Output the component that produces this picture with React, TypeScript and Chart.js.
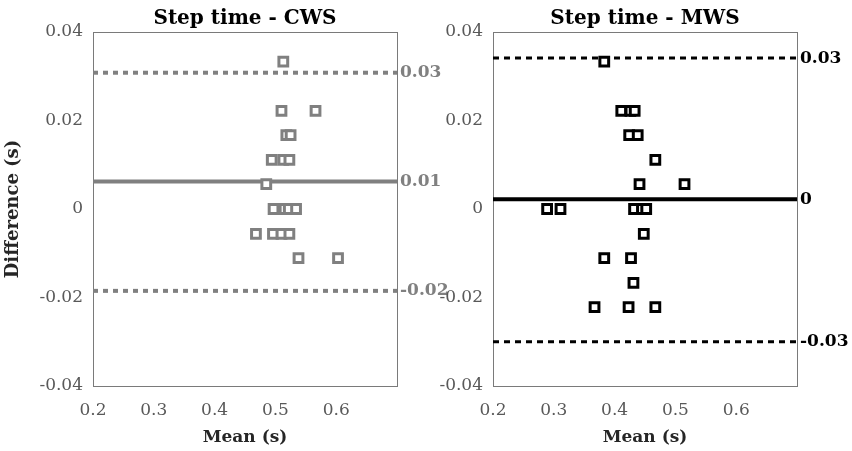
import { useEffect, useRef } from "react";
import { Chart, registerables } from "chart.js";

Chart.register(...registerables);

// ---- Data ----
const CWS_MEAN = [0.513, 0.51, 0.566, 0.518, 0.525, 0.494, 0.513, 0.523, 0.485, 0.497, 0.515, 0.522, 0.534, 0.468, 0.496, 0.51, 0.523, 0.538, 0.603];
const CWS_DIFF = [0.0333, 0.0222, 0.0222, 0.0167, 0.0167, 0.0111, 0.0111, 0.0111, 0.0056, 0, 0, 0, 0, -0.0056, -0.0056, -0.0056, -0.0056, -0.0111, -0.0111];
const CWS_LINES = [0.0308, 0.0062, -0.0185]; // upper LoA, bias, lower LoA
const CWS_LINE_LABELS = ["0.03", "0.01", "-0.02"];

const MWS_MEAN = [0.383, 0.411, 0.426, 0.433, 0.424, 0.438, 0.467, 0.441, 0.515, 0.289, 0.311, 0.432, 0.445, 0.452, 0.448, 0.383, 0.427, 0.431, 0.367, 0.423, 0.467];
const MWS_DIFF = [0.0333, 0.0222, 0.0222, 0.0222, 0.0167, 0.0167, 0.0111, 0.0056, 0.0056, 0, 0, 0, 0, 0, -0.0056, -0.0111, -0.0111, -0.0167, -0.0222, -0.0222, -0.0222];
const MWS_LINES = [0.0341, 0.0022, -0.03];
const MWS_LINE_LABELS = ["0.03", "0", "-0.03"];

const X_MIN = 0.2;
const X_MAX = 0.7;
const Y_MIN = -0.04;
const Y_MAX = 0.04;

const FONT = "'DejaVu Serif', serif";

type PanelProps = {
  title: string;
  xs: number[];
  ys: number[];
  lines: number[];
  lineLabels: string[];
  color: string;
  left: number;
  width: number;
  yAxisWidth: number;
  rightWidth: number;
  showYTitle: boolean;
  dash: number[];
  dashWidth: number;
};

const framePlugin = {
  id: "frame",
  beforeDatasetsDraw(chart: any) {
    const { ctx, chartArea: a } = chart;
    ctx.save();
    ctx.strokeStyle = "#7a7a7a";
    ctx.lineWidth = 1;
    ctx.strokeRect(Math.round(a.left) + 0.5, Math.round(a.top) + 0.5, Math.round(a.right - a.left), Math.round(a.bottom - a.top));
    ctx.restore();
  },
};

function Panel(p: PanelProps) {
  const ref = useRef<HTMLCanvasElement>(null);
  useEffect(() => {
    if (!ref.current) return;
    const pts = p.xs.map((x, i) => ({ x, y: p.ys[i] }));
    const lineDs = p.lines.map((v, i) => ({
      type: "line" as const,
      data: [
        { x: X_MIN, y: v },
        { x: X_MAX, y: v },
      ],
      borderColor: p.color,
      borderWidth: i === 1 ? 4 : p.dashWidth,
      borderDash: i === 1 ? [] : p.dash,
      pointRadius: 0,
      showLine: true,
      order: 2,
    }));
    const chart = new Chart(ref.current, {
      type: "scatter",
      data: {
        datasets: [
          {
            data: pts,
            pointStyle: "rect",
            pointRadius: 6.2,
            pointHoverRadius: 6.2,
            borderWidth: 3,
            borderColor: p.color,
            backgroundColor: "#ffffff",
            order: 0,
          } as any,
          ...lineDs,
        ],
      },
      options: {
        responsive: false,
        animation: false,
        events: [],
        layout: { padding: 0 },
        plugins: {
          legend: { display: false },
          tooltip: { enabled: false },
          title: {
            display: true,
            text: p.title,
            fullSize: false,
            color: "#000",
            font: { family: FONT, size: 20, weight: "bold", lineHeight: 1.2 },
            padding: { top: 6.5, bottom: 1.5 },
          },
        },
        scales: {
          x: {
            type: "linear",
            min: X_MIN,
            max: X_MAX,
            grid: { display: false, drawTicks: false, tickLength: 0 },
            border: { display: false },
            afterFit: (s: any) => {
              s.height = 65;
            },
            ticks: {
              stepSize: 0.1,
              padding: 14,
              color: "#595959",
              font: { family: FONT, size: 17 },
              callback: (v: any) => (v > 0.65 ? "" : Number(v).toFixed(1)),
            },
            title: {
              display: true,
              text: "Mean (s)",
              color: "#262626",
              font: { family: FONT, size: 17, weight: "bold", lineHeight: 1.2 },
              padding: { top: 0, bottom: 3 },
            },
          },
          y: {
            type: "linear",
            position: "left",
            min: Y_MIN,
            max: Y_MAX,
            grid: { display: false, drawTicks: false, tickLength: 0 },
            border: { display: false },
            afterFit: (s: any) => {
              s.width = p.yAxisWidth;
            },
            ticks: {
              stepSize: 0.02,
              padding: 10,
              color: "#595959",
              font: { family: FONT, size: 17 },
              callback: (v: any) => (Math.abs(v) < 1e-9 ? "0" : Number(v).toFixed(2)),
            },
            title: {
              display: p.showYTitle,
              text: "Difference (s)",
              color: "#262626",
              font: { family: FONT, size: 18, weight: "bold", lineHeight: 1.2 },
              padding: { top: 3, bottom: 0 },
            },
          },
          y2: {
            type: "linear",
            position: "right",
            min: Y_MIN,
            max: Y_MAX,
            grid: { display: false, drawTicks: false, tickLength: 0 },
            border: { display: false },
            afterBuildTicks: (s: any) => {
              s.ticks = p.lines.map((v) => ({ value: v }));
            },
            afterFit: (s: any) => {
              s.width = p.rightWidth;
            },
            ticks: {
              autoSkip: false,
              padding: 3,
              color: p.color,
              font: { family: FONT, size: 17, weight: "bold" },
              callback: (_v: any, i: number) => p.lineLabels[i],
            },
          },
        },
      } as any,
      plugins: [framePlugin],
    });
    return () => chart.destroy();
  }, []);
  return (
    <canvas
      ref={ref}
      width={p.width}
      height={451}
      style={{ position: "absolute", left: p.left, top: 0, width: p.width, height: 451 }}
    />
  );
}

export default function App() {
  return (
    <div style={{ position: "absolute", left: 0, top: 0, width: 852, height: 451, background: "#fff", overflow: "hidden" }}>
      <Panel
        title="Step time - CWS"
        xs={CWS_MEAN}
        ys={CWS_DIFF}
        lines={CWS_LINES}
        lineLabels={CWS_LINE_LABELS}
        color="#808080"
        left={0}
        width={460}
        yAxisWidth={93}
        rightWidth={63}
        showYTitle={true}
        dash={[5, 5]}
        dashWidth={4}
      />
      <Panel
        title="Step time - MWS"
        xs={MWS_MEAN}
        ys={MWS_DIFF}
        lines={MWS_LINES}
        lineLabels={MWS_LINE_LABELS}
        color="#000000"
        left={430}
        width={422}
        yAxisWidth={63}
        rightWidth={55}
        showYTitle={false}
        dash={[6, 5]}
        dashWidth={3}
      />
    </div>
  );
}
